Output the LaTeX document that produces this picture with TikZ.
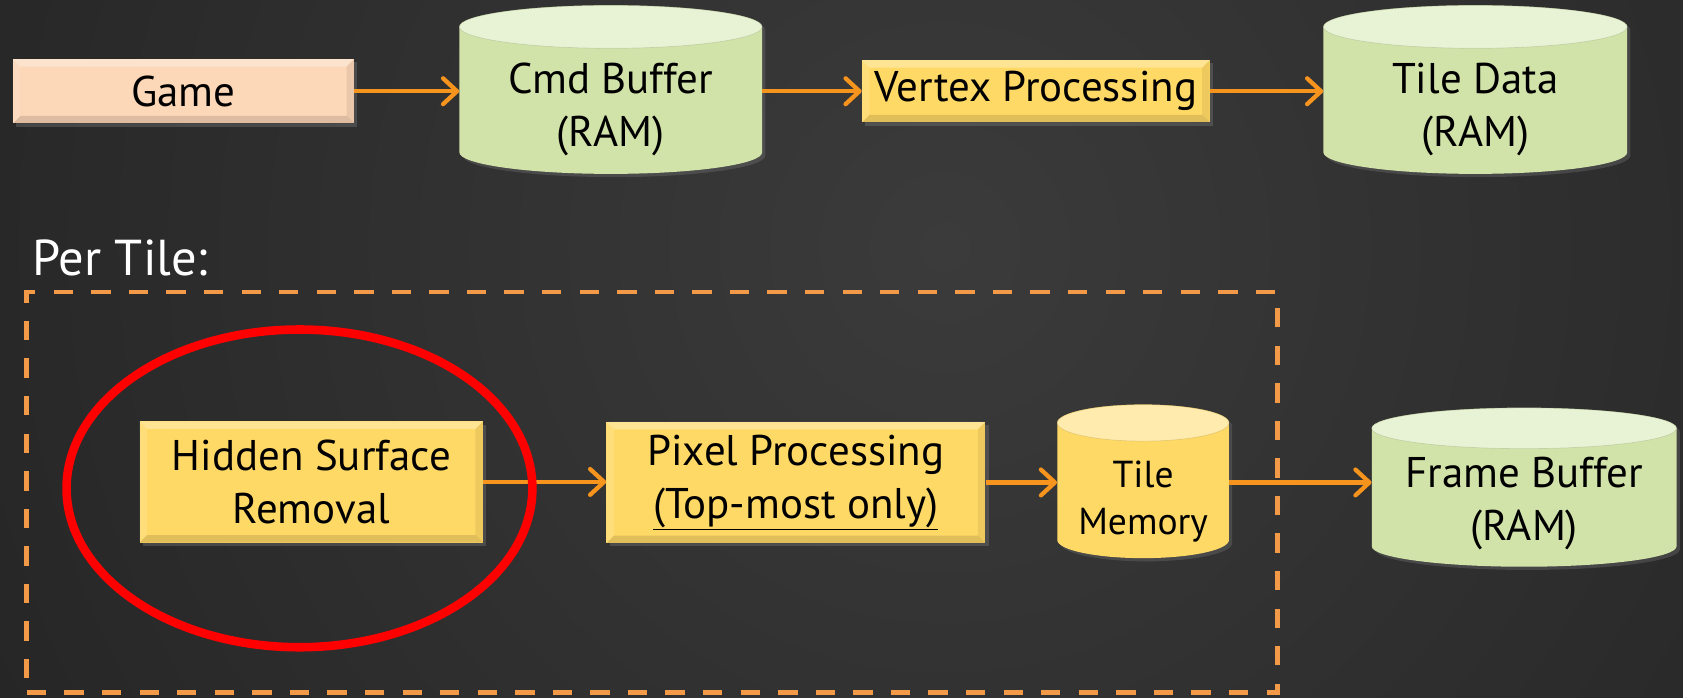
\documentclass[tikz,border=0pt]{standalone}
\usepackage{fontspec}
\setmainfont{PT Sans}
\usetikzlibrary{arrows.meta,shapes.geometric,shadows}

\definecolor{bgin}{HTML}{3B3B3B}
\definecolor{bgout}{HTML}{1D1D1D}
\definecolor{flowc}{HTML}{F7941D}
\definecolor{frameC}{HTML}{F39A48}
\definecolor{peach}{HTML}{FCD7B8}
\definecolor{gold}{HTML}{FFD966}
\definecolor{goldtop}{HTML}{FFEBAD}
\definecolor{sage}{HTML}{D2E3A9}
\definecolor{sagetop}{HTML}{E8F3D6}

% cylinder: x1 y1 x2 y2 (y downwards), end radius, body colour, top colour
\newcommand\can[7]{%
  \pgfmathsetmacro\cxc{(#1+#3)/2}%
  \pgfmathsetmacro\crx{(#3-#1)/2}%
  \pgfmathsetmacro\cyt{-(#2+#5)}%
  \pgfmathsetmacro\cyb{-(#4-#5)}%
  \fill[#6, drop shadow={opacity=.3, shadow xshift=3pt, shadow yshift=-3pt}]
    (#1,\cyt) -- (#1,\cyb)
    arc[start angle=180, end angle=360, x radius=\crx, y radius=#5]
    -- (#3,\cyt)
    arc[start angle=0, end angle=180, x radius=\crx, y radius=#5] -- cycle;
  \fill[#7] (\cxc,\cyt) ellipse[x radius=\crx, y radius=#5];
  \draw[#6!75!black, line width=.6pt, opacity=.4] (\cxc,\cyt) ellipse[x radius=\crx, y radius=#5];
}

\tikzset{
  bevel/.style={path picture={
    \path (path picture bounding box.north west) coordinate (bvnw)
          (path picture bounding box.north east) coordinate (bvne)
          (path picture bounding box.south west) coordinate (bvsw)
          (path picture bounding box.south east) coordinate (bvse);
    \fill[white, opacity=.3] (bvnw) -- (bvne) -- ([shift={(-7pt,-7pt)}]bvne) -- ([shift={(7pt,-7pt)}]bvnw) -- cycle;
    \fill[white, opacity=.12] (bvnw) -- ([shift={(7pt,-7pt)}]bvnw) -- ([shift={(7pt,7pt)}]bvsw) -- (bvsw) -- cycle;
    \fill[black, opacity=.12] (bvsw) -- (bvse) -- ([shift={(-7pt,7pt)}]bvse) -- ([shift={(7pt,7pt)}]bvsw) -- cycle;
    \fill[black, opacity=.07] (bvne) -- (bvse) -- ([shift={(-7pt,7pt)}]bvse) -- ([shift={(-7pt,-7pt)}]bvne) -- cycle;
  }},
  procbox/.style={rectangle, fill=#1, inner sep=0pt, align=center, text=black, bevel,
    drop shadow={opacity=.35, shadow xshift=3pt, shadow yshift=-3pt}},
  canlabel/.style={rectangle, inner sep=0pt, align=center, text=black},
  flow/.style={draw=flowc, line width=4pt, -{Straight Barb[length=13pt, width=24pt, round]}},
  dashframe/.style={draw=frameC, line width=4.5pt, dash pattern=on 18pt off 17pt, inner sep=0pt},
  focusring/.style={ellipse, draw=red, line width=8pt, inner sep=0pt},
  heading/.style={text=white, font=\fontsize{47}{56}\selectfont, inner sep=0pt}
}

\begin{document}
\begin{tikzpicture}[x=1pt, y=1pt, font=\fontsize{40}{50}\selectfont]
\useasboundingbox (0,0) rectangle (1568,-650);

% backdrop
\begin{scope}
  \clip (0,0) rectangle (1568,-650);
  \fill[bgout] (0,0) rectangle (1568,-650);
  \shade[inner color=bgin, outer color=bgout] (880,-230) circle (1400);
\end{scope}

% storage drums
\can{428}{5}{710}{162}{20}{sage}{sagetop}
\can{1233}{5}{1516}{162}{20}{sage}{sagetop}
\can{985}{377}{1145}{520}{17}{gold}{goldtop}
\can{1278}{380}{1562}{528}{19}{sage}{sagetop}

% geometry pass
\node[procbox=peach, minimum width=318, minimum height=60] (game) at (171,-85) {Game};
\node[canlabel, minimum width=282] (cmd) at (569,-102) {Cmd Buffer\\(RAM)};
\node[procbox=gold, minimum width=324, minimum height=58] (vtx) at (965,-85) {Vertex Processing};
\node[canlabel, minimum width=283] (tdata) at (1374.5,-102) {Tile Data\\(RAM)};

% per-tile pass
\node[heading, anchor=base west] (pertile) at (30,-257) {Per Tile:};
\node[dashframe, minimum width=1165, minimum height=373] (tileframe) at (607.5,-458.5) {};
\node[procbox=gold, minimum width=320, minimum height=113] (hsr) at (290,-449) {Hidden Surface\\Removal};
\node[procbox=gold, minimum width=353, minimum height=113] (pix) at (741.5,-449.5) {Pixel Processing\\\underline{(Top-most only)}};
\node[canlabel, minimum width=160, font=\fontsize{35}{44}\selectfont] (tmem) at (1065,-467) {Tile\\Memory};
\node[canlabel, minimum width=284] (fb) at (1420,-469) {Frame Buffer\\(RAM)};

% connectors
\draw[flow] (game.east) -- (game.east -| cmd.west);
\draw[flow] (vtx.west -| cmd.east) -- (vtx.west);
\draw[flow] (vtx.east) -- (vtx.east -| tdata.west);
\draw[flow] (hsr.east) -- (hsr.east -| pix.west);
\draw[flow] (pix.east) -- (pix.east -| tmem.west);
\draw[flow] (pix.east -| tmem.east) -- (pix.east -| fb.west);

% highlight
\node[focusring, minimum width=434, minimum height=296] (focus) at (279,-455) {};
\end{tikzpicture}
\end{document}
